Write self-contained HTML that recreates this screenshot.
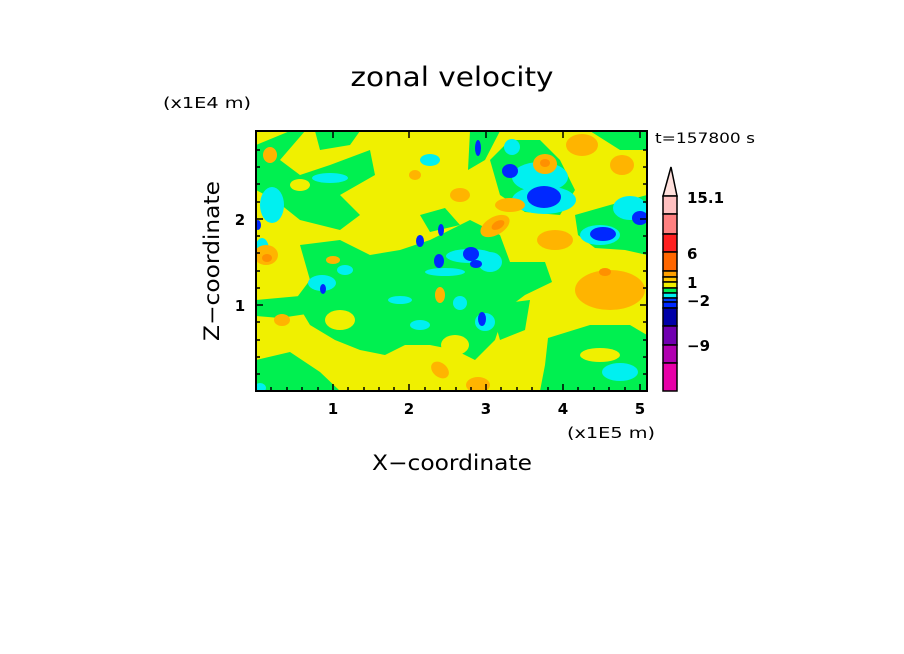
<!DOCTYPE html>
<html><head><meta charset="utf-8"><style>
html,body{margin:0;padding:0;background:#fff;}
svg{display:block;font-family:"DejaVu Sans","Liberation Sans",sans-serif;}
</style></head><body>
<svg width="904" height="654" viewBox="0 0 904 654" xmlns="http://www.w3.org/2000/svg">
<rect width="904" height="654" fill="#fff"/>
<text x="452" y="86" font-size="27" text-anchor="middle" textLength="203" lengthAdjust="spacingAndGlyphs">zonal velocity</text>
<text x="163" y="108" font-size="15" textLength="88" lengthAdjust="spacingAndGlyphs">(x1E4 m)</text>
<text x="655" y="143" font-size="14" textLength="100" lengthAdjust="spacingAndGlyphs">t=157800 s</text>
<text x="567" y="438" font-size="15" textLength="88" lengthAdjust="spacingAndGlyphs">(x1E5 m)</text>
<text x="452" y="470" font-size="21" text-anchor="middle" textLength="160" lengthAdjust="spacingAndGlyphs">X−coordinate</text>
<text transform="translate(219,261) rotate(-90)" font-size="21" text-anchor="middle" textLength="160" lengthAdjust="spacingAndGlyphs">Z−coordinate</text>

<defs><clipPath id="c"><rect x="256" y="131" width="391" height="260"/></clipPath></defs>
<g clip-path="url(#c)">
<rect x="256" y="131" width="391" height="260" fill="#f0f000"/>
<g fill="#00f050">
<!-- top-left stripes -->
<path d="M256,145 L290,131 L305,131 L280,160 L300,175 L330,165 L370,150 L375,175 L340,195 L360,215 L340,230 L300,220 L275,200 L256,190 Z"/>
<path d="M315,131 L360,131 L350,145 L320,150 Z"/>
<!-- main central band -->
<path d="M300,245 L340,240 L370,255 L400,250 L430,240 L470,220 L500,235 L510,262 L545,262 L552,282 L525,295 L505,310 L495,340 L475,360 L455,350 L430,345 L405,345 L385,355 L360,350 L335,340 L310,325 L295,300 L310,280 Z"/>
<path d="M256,300 L300,296 L320,312 L280,318 L256,316 Z"/>
<path d="M256,360 L290,352 L320,372 L340,391 L256,391 Z"/>
<path d="M420,215 L445,208 L460,225 L430,232 Z"/>
<!-- right bottom -->
<path d="M548,338 L590,325 L630,325 L647,335 L647,391 L540,391 L545,365 Z"/>
<!-- top right -->
<path d="M490,160 L510,140 L540,140 L560,160 L575,190 L560,215 L525,212 L500,195 Z"/>
<path d="M575,215 L610,205 L647,195 L647,255 L625,250 L595,248 L578,235 Z"/>
<path d="M590,131 L647,131 L647,150 L620,150 Z"/>
<path d="M470,131 L500,131 L485,160 L468,170 Z"/>
<path d="M490,305 L530,300 L525,330 L500,340 Z"/>
</g>
<g fill="#f0f000">
<ellipse cx="340" cy="320" rx="15" ry="10"/>
<ellipse cx="400" cy="375" rx="30" ry="12"/>
<ellipse cx="600" cy="355" rx="20" ry="7"/>
<ellipse cx="455" cy="345" rx="14" ry="10"/>
<ellipse cx="300" cy="185" rx="10" ry="6"/>
</g>
<g fill="#00f0f0">
<ellipse cx="272" cy="205" rx="12" ry="18"/>
<ellipse cx="262" cy="250" rx="7" ry="12"/>
<ellipse cx="330" cy="178" rx="18" ry="5"/>
<ellipse cx="322" cy="283" rx="14" ry="8"/>
<ellipse cx="345" cy="270" rx="8" ry="5"/>
<ellipse cx="540" cy="177" rx="28" ry="15"/>
<ellipse cx="544" cy="200" rx="32" ry="14"/>
<ellipse cx="600" cy="235" rx="20" ry="10"/>
<ellipse cx="630" cy="208" rx="17" ry="12"/>
<ellipse cx="512" cy="147" rx="8" ry="8"/>
<ellipse cx="470" cy="256" rx="24" ry="7"/>
<ellipse cx="490" cy="262" rx="12" ry="10"/>
<ellipse cx="445" cy="272" rx="20" ry="4"/>
<ellipse cx="485" cy="322" rx="10" ry="9"/>
<ellipse cx="460" cy="303" rx="7" ry="7"/>
<ellipse cx="420" cy="325" rx="10" ry="5"/>
<ellipse cx="400" cy="300" rx="12" ry="4"/>
<ellipse cx="620" cy="372" rx="18" ry="9"/>
<ellipse cx="260" cy="388" rx="6" ry="5"/>
<ellipse cx="430" cy="160" rx="10" ry="6"/>
</g>
<g fill="#0028ff">
<ellipse cx="510" cy="171" rx="8" ry="7"/>
<ellipse cx="544" cy="197" rx="17" ry="11"/>
<ellipse cx="603" cy="234" rx="13" ry="7"/>
<ellipse cx="640" cy="218" rx="8" ry="7"/>
<ellipse cx="471" cy="254" rx="8" ry="7"/>
<ellipse cx="439" cy="261" rx="5" ry="7"/>
<ellipse cx="476" cy="264" rx="6" ry="4"/>
<ellipse cx="420" cy="241" rx="4" ry="6"/>
<ellipse cx="441" cy="230" rx="3" ry="6"/>
<ellipse cx="482" cy="319" rx="4" ry="7"/>
<ellipse cx="323" cy="289" rx="3" ry="5"/>
<ellipse cx="478" cy="148" rx="3" ry="8"/>
<ellipse cx="258" cy="225" rx="3" ry="5"/>
</g>
<g fill="#ffb400">
<ellipse cx="266" cy="255" rx="12" ry="10"/>
<ellipse cx="545" cy="164" rx="12" ry="10"/>
<ellipse cx="582" cy="145" rx="16" ry="11"/>
<ellipse cx="622" cy="165" rx="12" ry="10"/>
<ellipse cx="495" cy="226" rx="16" ry="9" transform="rotate(-30 495 226)"/>
<ellipse cx="510" cy="205" rx="15" ry="7"/>
<ellipse cx="460" cy="195" rx="10" ry="7"/>
<ellipse cx="610" cy="290" rx="35" ry="20"/>
<ellipse cx="555" cy="240" rx="18" ry="10"/>
<ellipse cx="440" cy="370" rx="10" ry="7" transform="rotate(40 440 370)"/>
<ellipse cx="478" cy="385" rx="12" ry="8"/>
<ellipse cx="440" cy="295" rx="5" ry="8"/>
<ellipse cx="333" cy="260" rx="7" ry="4"/>
<ellipse cx="270" cy="155" rx="7" ry="8"/>
<ellipse cx="282" cy="320" rx="8" ry="6"/>
<ellipse cx="415" cy="175" rx="6" ry="5"/>
</g>
<g fill="#ff9000">
<ellipse cx="267" cy="258" rx="5" ry="4"/>
<ellipse cx="545" cy="163" rx="5" ry="4"/>
<ellipse cx="605" cy="272" rx="6" ry="4"/>
<ellipse cx="498" cy="225" rx="7" ry="4" transform="rotate(-30 498 225)"/>
</g>
</g>
<rect x="256" y="131" width="391" height="260" fill="none" stroke="#000" stroke-width="2"/>
<g stroke="#000" stroke-width="1.5">
<path d="M333,391v-7M409,391v-7M486,391v-7M563,391v-7M640,391v-7M333,131v7M409,131v7M486,131v7M563,131v7M640,131v7"/>
<path d="M256,219h7M256,305h7M647,219h-7M647,305h-7"/>
<path d="M271,391v-4M287,391v-4M302,391v-4M318,391v-4M348,391v-4M364,391v-4M379,391v-4M394,391v-4M425,391v-4M440,391v-4M456,391v-4M471,391v-4M501,391v-4M517,391v-4M532,391v-4M548,391v-4M578,391v-4M594,391v-4M609,391v-4M625,391v-4"/>
<path d="M256,150h4M256,167h4M256,184h4M256,202h4M256,236h4M256,253h4M256,271h4M256,288h4M256,322h4M256,340h4M256,357h4M256,374h4M647,150h-4M647,167h-4M647,184h-4M647,202h-4M647,236h-4M647,253h-4M647,271h-4M647,288h-4M647,322h-4M647,340h-4M647,357h-4M647,374h-4"/>
</g>
<g font-size="15" text-anchor="middle" font-weight="bold">
<text x="333" y="414">1</text><text x="409" y="414">2</text><text x="486" y="414">3</text><text x="563" y="414">4</text><text x="640" y="414">5</text>
<text x="240" y="225">2</text><text x="240" y="311">1</text>
</g>
<g stroke="#000" stroke-width="1.5">
<polygon points="663,196 677,196 671,167" fill="#ffe0dc"/>
<rect x="663" y="196" width="14" height="18" fill="#ffc0c0"/>
<rect x="663" y="214" width="14" height="20" fill="#ff8080"/>
<rect x="663" y="234" width="14" height="18" fill="#ff2020"/>
<rect x="663" y="252" width="14" height="19" fill="#ff6600"/>
<rect x="663" y="271" width="14" height="6" fill="#ffa000"/>
<rect x="663" y="277" width="14" height="5" fill="#ffc800"/>
<rect x="663" y="282" width="14" height="6" fill="#f0f000"/>
<rect x="663" y="288" width="14" height="5" fill="#00f050"/>
<rect x="663" y="293" width="14" height="5" fill="#00f0f0"/>
<rect x="663" y="298" width="14" height="4" fill="#0040ff"/>
<rect x="663" y="302" width="14" height="6" fill="#0028ff"/>
<rect x="663" y="308" width="14" height="18" fill="#0000a8"/>
<rect x="663" y="326" width="14" height="19" fill="#7000b0"/>
<rect x="663" y="345" width="14" height="18" fill="#b000b0"/>
<rect x="663" y="363" width="14" height="28" fill="#e800a8"/>
</g>
<g font-size="15" font-weight="bold">
<text x="687" y="203">15.1</text>
<text x="687" y="259">6</text>
<text x="687" y="288">1</text>
<text x="687" y="306">−2</text>
<text x="687" y="351">−9</text>
</g>
</svg>
</body></html>
